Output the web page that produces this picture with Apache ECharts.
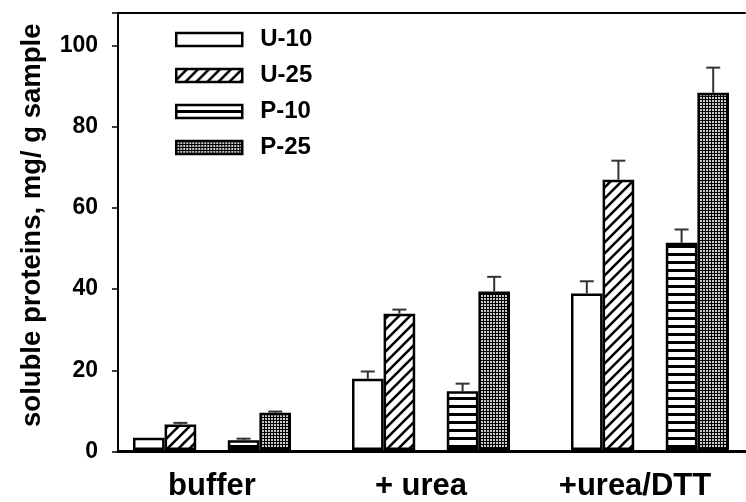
<!DOCTYPE html>
<html>
<head>
  <meta charset="UTF-8">
  <title>soluble proteins</title>
  <script src="https://cdn.jsdelivr.net/npm/echarts@6.0.0/dist/echarts.min.js"></script>
  <style>
    body { margin: 0; padding: 0; background: #fff; }
    #chart { width: 746px; height: 502px; }
  </style>
</head>
<body>
  <div id="chart"></div>
  <script>
    var categories = ['buffer', '+ urea', '+urea/DTT'];
    var seriesNames = ['U-10', 'U-25', 'P-10', 'P-25'];
    var u10 = [3.0, 17.6, 38.7];
    var u25 = [6.3, 33.7, 66.8];
    var p10 = [2.4, 14.5, 51.2];
    var p25 = [9.2, 39.2, 88.3];
    var u10Err = [0, 1.8, 3.0];
    var u25Err = [0.4, 1.0, 4.7];
    var p10Err = [0.4, 1.9, 3.3];
    var p25Err = [0.3, 3.6, 6.2];
    var yTicks = [0, 20, 40, 60, 80, 100];

    var FONT = '"Liberation Sans", Arial, sans-serif';
    var BAR_W = 31.6;
    // label nudges (px) so the category text sits like the original
    var labelShift = [0, 10, 15];

    // fill patterns
    function tile(w, h, draw) {
      var c = document.createElement('canvas');
      c.width = w; c.height = h;
      draw(c.getContext('2d'));
      return { image: c, repeat: 'repeat' };
    }
    var plain = '#ffffff';
    var hatch = tile(11, 11, function (ctx) {
      ctx.fillStyle = '#fff'; ctx.fillRect(0, 0, 11, 11);
      ctx.strokeStyle = '#000'; ctx.lineWidth = 2.6;
      ctx.beginPath();
      ctx.moveTo(-1, 12); ctx.lineTo(12, -1);
      ctx.moveTo(-2, 2); ctx.lineTo(2, -2);
      ctx.moveTo(9, 13); ctx.lineTo(13, 9);
      ctx.stroke();
    });
    var stripes = tile(8, 8, function (ctx) {
      ctx.fillStyle = '#fff'; ctx.fillRect(0, 0, 8, 8);
      ctx.fillStyle = '#000'; ctx.fillRect(0, 5, 8, 3);
    });
    var mesh = tile(3, 3, function (ctx) {
      ctx.fillStyle = '#000'; ctx.fillRect(0, 0, 3, 3);
      ctx.fillStyle = '#c8c8c8'; ctx.fillRect(1, 1, 2, 2);
    });

    var fills = [plain, hatch, stripes, mesh];
    var values = [u10, u25, p10, p25];
    var errs = [u10Err, u25Err, p10Err, p25Err];
    var slots = [0, 1, 3, 4]; // slot 2 is the empty gap in each group

    var series = [];
    for (var s = 0; s < 4; s++) {
      series.push({
        name: seriesNames[s],
        type: 'bar',
        xAxisIndex: 2,
        yAxisIndex: 1,
        barWidth: BAR_W,
        barGap: 0,
        clip: false,
        data: values[s],
        itemStyle: { color: fills[s], borderColor: '#000', borderWidth: 2.5 },
        z: 2
      });
      if (s === 1) {
        series.push({
          name: 'gap', type: 'bar', xAxisIndex: 2, yAxisIndex: 1,
          barWidth: BAR_W, barGap: 0, data: ['-', '-', '-'], silent: true
        });
      }
    }

    var errData = [];
    for (var s = 0; s < 4; s++) {
      for (var i = 0; i < categories.length; i++) {
        errData.push([i, values[s][i], errs[s][i], slots[s]]);
      }
    }
    series.push({
      type: 'custom',
      xAxisIndex: 2,
      yAxisIndex: 1,
      z: 5,
      clip: false,
      data: errData,
      encode: { x: 0, y: 1 },
      renderItem: function (params, api) {
        var err = api.value(2);
        if (!err) return null;
        var base = api.coord([api.value(0), api.value(1)]);
        var top = api.coord([api.value(0), api.value(1) + err]);
        var x = base[0] + (api.value(3) - 2) * BAR_W;
        var st = { stroke: '#333', lineWidth: 2 };
        return {
          type: 'group',
          children: [
            { type: 'line', shape: { x1: x, y1: base[1], x2: x, y2: top[1] }, style: st },
            { type: 'line', shape: { x1: x - 7, y1: top[1], x2: x + 7, y2: top[1] }, style: st }
          ]
        };
      }
    });

    var rich = {};
    for (var i = 0; i < categories.length; i++) {
      rich['c' + i] = {
        fontFamily: FONT, fontWeight: 'bold', fontSize: 31, color: '#000',
        padding: [0, 2 * labelShift[i], 0, 0]
      };
    }

    var chart = echarts.init(document.getElementById('chart'), null, { renderer: 'canvas' });
    chart.setOption({
      animation: false,
      backgroundColor: '#fff',
      grid: [
        { left: 118, right: 1, top: 13, bottom: 50.5 },
        // category centres sit on the ticks of this narrower grid
        { left: 212, width: 438, top: 13, bottom: 50.5 }
      ],
      legend: {
        data: seriesNames,
        orient: 'vertical',
        left: 175,
        top: 27,
        padding: 0,
        icon: 'rect',
        itemWidth: 66,
        itemHeight: 13,
        itemGap: 11,
        selectedMode: false,
        itemStyle: { borderColor: '#000', borderWidth: 2.5 },
        textStyle: {
          fontFamily: FONT, fontWeight: 'bold', fontSize: 24, color: '#000',
          lineHeight: 25, padding: [0, 0, 0, 13]
        }
      },
      xAxis: [
        {
          type: 'value', gridIndex: 0, position: 'bottom', min: 0, max: 1,
          axisLine: { show: true, lineStyle: { color: '#000', width: 3 } },
          axisTick: { show: false }, axisLabel: { show: false }, splitLine: { show: false }
        },
        {
          type: 'value', gridIndex: 0, position: 'top', min: 0, max: 1,
          axisLine: { show: true, lineStyle: { color: '#000', width: 2 } },
          axisTick: { show: false }, axisLabel: { show: false }, splitLine: { show: false }
        },
        {
          type: 'category', gridIndex: 1, data: categories, boundaryGap: false,
          axisLine: { show: false }, axisTick: { show: false },
          axisLabel: {
            margin: 21,
            formatter: function (v, idx) { return '{c' + idx + '|' + v + '}'; },
            rich: rich
          }
        }
      ],
      yAxis: [
        {
          type: 'value', gridIndex: 0, min: 0, max: 108, interval: 20,
          name: 'soluble proteins, mg/ g sample',
          nameLocation: 'middle',
          nameGap: 72,
          nameTextStyle: {
            fontFamily: FONT, fontWeight: 'bold', fontSize: 27.5, color: '#000',
            padding: [0, 0, 0, 14]
          },
          axisLine: { show: true, lineStyle: { color: '#000', width: 2 } },
          axisTick: { show: true, length: 6, inside: false, lineStyle: { color: '#000', width: 1.5 } },
          axisLabel: {
            margin: 20, fontFamily: FONT, fontWeight: 'bold', fontSize: 23, color: '#000',
            formatter: function (v) { return yTicks.indexOf(v) >= 0 ? String(v) : ''; }
          },
          splitLine: { show: false }
        },
        {
          type: 'value', gridIndex: 1, min: 0, max: 108, show: false
        }
      ],
      series: series
    });
  </script>
</body>
</html>
